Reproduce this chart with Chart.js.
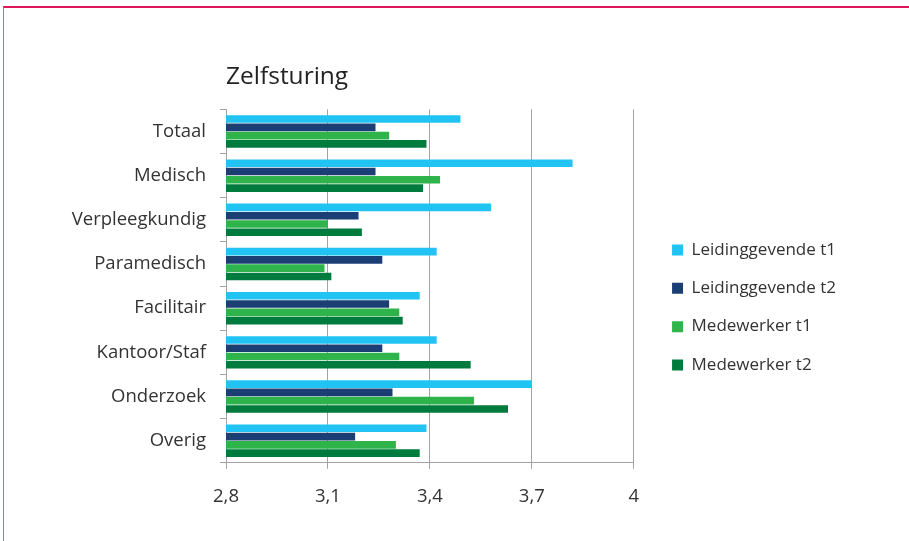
<!DOCTYPE html>
<html lang="nl">
<head>
    <meta charset="UTF-8">
    <title>Zelfsturing</title>
    <style>
        html, body { margin: 0; padding: 0; background: #fff; }
        .frame {
            position: absolute; left: 3px; top: 6px; width: 920px; height: 560px;
            border-top: 2px solid #e0185a; border-left: 1px solid #d9608f;
        }
        .wrap { position: absolute; left: 0; top: 0; width: 909px; height: 541px; }
    </style>
</head>
<body>
    <div class="frame"></div>
    <div class="wrap"><canvas id="myChart" width="909" height="541"></canvas></div>
    <script src="https://cdn.jsdelivr.net/npm/chart.js@4.4.1/dist/chart.umd.min.js"></script>
    <script>
const categories = ['Totaal', 'Medisch', 'Verpleegkundig', 'Paramedisch', 'Facilitair', 'Kantoor/Staf', 'Onderzoek', 'Overig'];
const leidinggevendeT1 = [3.49, 3.82, 3.58, 3.42, 3.37, 3.42, 3.70, 3.39];
const leidinggevendeT2 = [3.24, 3.24, 3.19, 3.26, 3.28, 3.26, 3.29, 3.18];
const medewerkerT1 = [3.28, 3.43, 3.10, 3.09, 3.31, 3.31, 3.53, 3.30];
const medewerkerT2 = [3.39, 3.38, 3.20, 3.11, 3.32, 3.52, 3.63, 3.37];
const xTicks = [2.8, 3.1, 3.4, 3.7, 4];

const fontFamily = "'Open Sans', 'Noto Sans', sans-serif";

// schuift de legenda iets naar rechts/onder, zoals in het origineel
const legendShift = {
    id: 'legendShift',
    afterLayout(chart) {
        const lg = chart.legend;
        lg.left += 17; lg.right += 17;
        lg.top += 45; lg.bottom += 45;
    }
};

const ctx = document.getElementById('myChart').getContext('2d');
const myChart = new Chart(ctx, {
    type: 'bar',
    data: {
        labels: categories,
        datasets: [
            { label: 'Leidinggevende t1', data: leidinggevendeT1, backgroundColor: '#21c3f2' },
            { label: 'Leidinggevende t2', data: leidinggevendeT2, backgroundColor: '#1b3f74' },
            { label: 'Medewerker t1', data: medewerkerT1, backgroundColor: '#2fb44b' },
            { label: 'Medewerker t2', data: medewerkerT2, backgroundColor: '#007b3e' }
        ]
    },
    options: {
        indexAxis: 'y',
        responsive: false,
        animation: false,
        categoryPercentage: 0.75,
        barPercentage: 0.92,
        layout: { padding: { left: 0, right: 80, top: 0, bottom: 16 } },
        scales: {
            x: {
                min: 2.8,
                max: 4,
                afterBuildTicks: scale => { scale.ticks = xTicks.map(v => ({ value: v })); },
                ticks: {
                    color: '#333',
                    font: { family: fontFamily, size: 18.5 },
                    padding: 17,
                    callback: v => String(v).replace('.', ',')
                },
                grid: { color: '#a3a3a3', lineWidth: 1, tickLength: 6 },
                border: { color: '#a3a3a3' }
            },
            y: {
                afterFit: scale => { scale.width = 226; },
                ticks: {
                    color: '#333',
                    font: { family: fontFamily, size: 18.5 },
                    padding: 14
                },
                grid: { drawOnChartArea: false, color: '#a3a3a3', tickLength: 6 },
                border: { color: '#a3a3a3' }
            }
        },
        plugins: {
            title: {
                display: true,
                text: 'Zelfsturing',
                align: 'start',
                fullSize: false,
                color: '#222',
                font: { family: fontFamily, size: 24.5, weight: 'normal' },
                padding: { top: 62, bottom: 18 }
            },
            legend: {
                position: 'right',
                labels: {
                    color: '#333',
                    boxWidth: 11,
                    boxHeight: 11,
                    padding: 21.3,
                    font: { family: fontFamily, size: 17 }
                }
            },
            tooltip: { enabled: false }
        }
    },
    plugins: [legendShift]
});
    </script>
</body>
</html>
